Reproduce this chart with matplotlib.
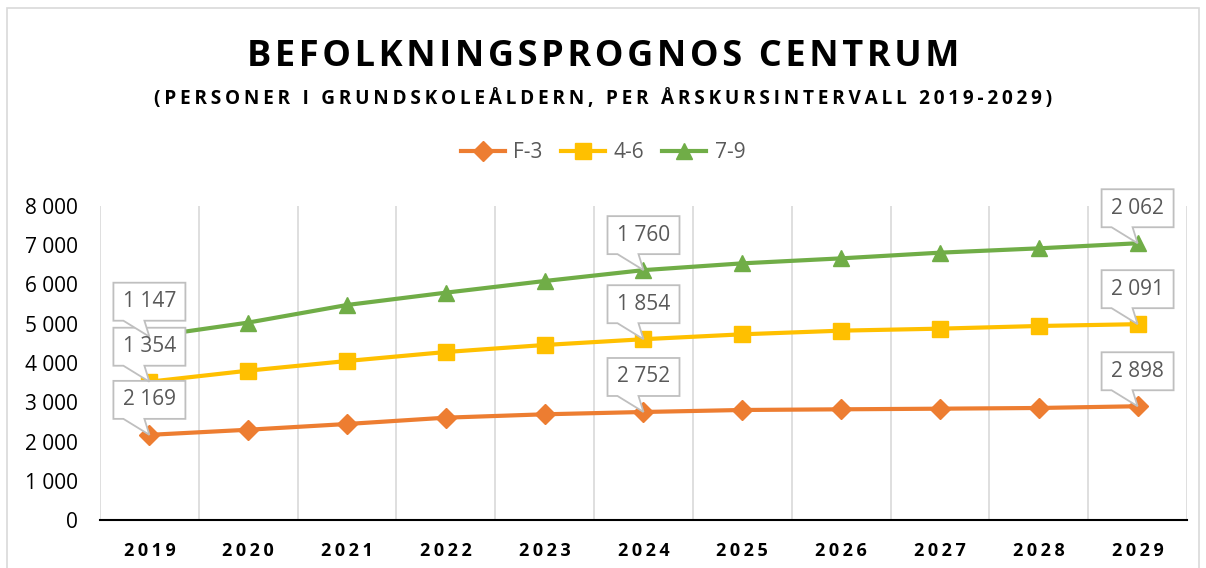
import matplotlib
matplotlib.use("Agg")
import matplotlib.pyplot as plt
import numpy as np
from matplotlib.patches import Rectangle, Polygon
from matplotlib.transforms import Affine2D, ScaledTranslation
from matplotlib.ticker import FuncFormatter, FixedLocator

plt.rcParams['font.family'] = ['Open Sans', 'DejaVu Sans']

years = ['2019', '2020', '2021', '2022', '2023', '2024', '2025', '2026', '2027', '2028', '2029']
series_names = ['F-3', '4-6', '7-9']
f3 = [2169, 2300, 2446, 2607, 2693, 2752, 2803, 2820, 2836, 2854, 2898]
g46 = [1354, 1505, 1605, 1673, 1766, 1854, 1928, 2004, 2039, 2089, 2091]
g79 = [1147, 1225, 1427, 1512, 1630, 1760, 1808, 1842, 1936, 1978, 2062]
label_idx = [0, 5, 10]

colors = ['#ED7D31', '#FFC000', '#70AD47']
markers = ['D', 's', '^']
msizes = [10, 12, 12]

# callout shape in pixels relative to the data point
CALLOUT = [(-36, 16), (-26, 16), (0, 0), (-5, 16), (36, 16), (36, 54), (-36, 54)]

def spaced(s, n=1):
  return ('\u200a' * n).join(s)

def fmt_num(v):
  return '{:,}'.format(int(round(v))).replace(',', ' ')

W, H = 1206, 568
fig = plt.figure(figsize=(W/100, H/100), dpi=100)
ax = fig.add_axes([100/W, 48/H, (1187-100)/W, (520-206)/H])

# chart border
fig.patches.append(Rectangle((7/W, -0.1), (1199-7)/W, 1.1 - 8/H, transform=fig.transFigure,
                             fill=False, ec='#d9d9d9', lw=1.2))

x = np.arange(len(years))
vals = [np.array(f3), np.array(g46), np.array(g79)]
cum = np.cumsum(vals, axis=0)

for i in range(3):
  ax.plot(x, cum[i], color=colors[i], lw=3, marker=markers[i], ms=msizes[i],
          label=series_names[i], zorder=3)

ax.set_xlim(-0.5, len(years) - 0.5)
ax.set_ylim(0, 8000)

for i in range(3):
  for j in label_idx:
    tr = Affine2D() + ScaledTranslation(x[j], cum[i][j], ax.transData)
    ax.add_patch(Polygon(CALLOUT, closed=True, transform=tr, fc='white', ec='#bfbfbf',
                         lw=1.3, zorder=5, clip_on=False))
    ax.annotate(fmt_num(vals[i][j]), xy=(x[j], cum[i][j]), xytext=(0, 35),
                textcoords='offset pixels', ha='center', va='center',
                fontsize=15, color='#595959', zorder=6)

ax.set_yticks(np.arange(0, 8001, 1000))
ax.yaxis.set_major_formatter(FuncFormatter(lambda v, p: fmt_num(v)))
ax.set_xticks(x)
ax.set_xticklabels([spaced(y, 2) for y in years], fontweight='bold', fontsize=13)
ax.xaxis.set_minor_locator(FixedLocator(np.arange(-0.5, len(years), 1.0)))
ax.grid(axis='x', which='minor', color='#d9d9d9', lw=1.2)
ax.tick_params(axis='both', which='both', length=0)
ax.tick_params(axis='y', labelsize=15, pad=16)
ax.tick_params(axis='x', pad=16)
for s in ['top', 'right', 'left']:
  ax.spines[s].set_visible(False)
ax.spines['bottom'].set_color('black')
ax.spines['bottom'].set_linewidth(1.5)

fig.text(0.5, 1 - 57/H, spaced('BEFOLKNINGSPROGNOS CENTRUM', 1), ha='center', va='center',
         fontsize=26, fontweight='bold')
fig.text(0.5, 1 - 99/H, spaced('(PERSONER I GRUNDSKOLEÅLDERN, PER ÅRSKURSINTERVALL 2019-2029)', 2),
         ha='center', va='center', fontsize=13.7, fontweight='bold')

leg = fig.legend(loc='center', bbox_to_anchor=(0.5, 1 - 153/H), ncol=3, frameon=False,
                 fontsize=15, handlelength=2.1, columnspacing=0.9, handletextpad=0.4)
for t in leg.get_texts():
  t.set_color('#595959')

fig.savefig('out.png', dpi=100)
